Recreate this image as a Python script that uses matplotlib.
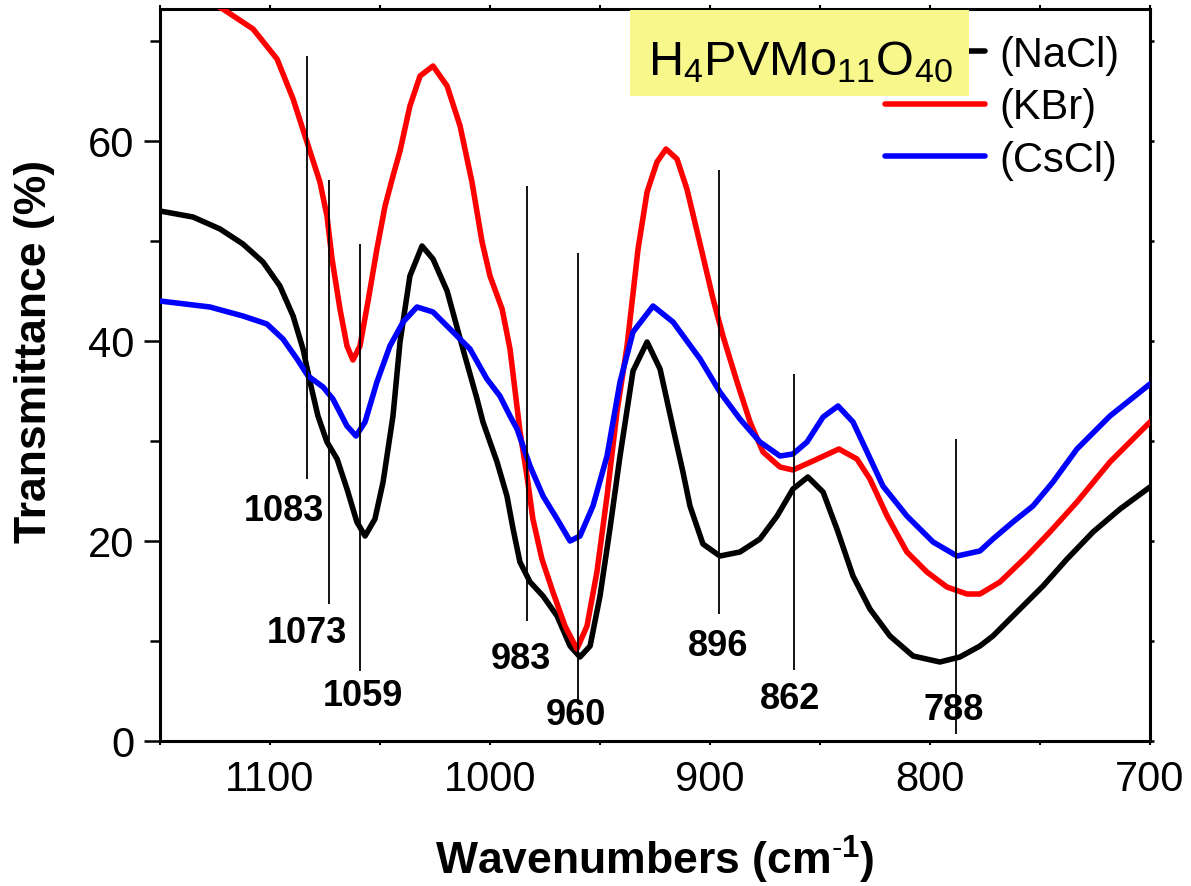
import matplotlib
matplotlib.use("Agg")
import matplotlib.pyplot as plt
from matplotlib.patches import Rectangle
from matplotlib.ticker import MultipleLocator

plt.rcParams['font.family'] = ['Liberation Sans', 'DejaVu Sans']
plt.rcParams['mathtext.fontset'] = 'custom'
plt.rcParams['mathtext.rm'] = 'Liberation Sans'
plt.rcParams['mathtext.bf'] = 'Liberation Sans:bold'
plt.rcParams['mathtext.default'] = 'regular'

# ---- data ----
nacl_wn = [1150.0, 1135.0, 1122.7, 1112.3, 1103.2, 1095.5, 1089.5, 1085.0, 1081.8, 1078.2,
           1074.1, 1069.5, 1065.0, 1060.5, 1056.8, 1052.3, 1048.6, 1044.1, 1040.9, 1036.4,
           1030.9, 1025.9, 1019.5, 1012.3, 1005.9, 1003.2, 996.8, 992.3, 989.5, 986.4,
           981.8, 975.9, 969.5, 963.6, 959.1, 954.5, 950.0, 945.5, 940.9, 935.0,
           928.6, 922.7, 916.8, 912.3, 909.1, 903.2, 895.5, 886.4, 877.3, 869.5,
           862.3, 855.5, 848.6, 842.3, 835.0, 827.3, 818.2, 807.7, 795.5, 786.4,
           777.3, 771.4, 759.1, 748.6, 737.7, 725.9, 713.6, 700.0]
nacl_t = [53.0, 52.4, 51.2, 49.7, 47.9, 45.5, 42.5, 39.2, 35.9, 32.5,
          29.9, 28.2, 25.2, 21.9, 20.5, 22.2, 25.9, 32.5, 39.9, 46.5,
          49.5, 48.2, 45.0, 39.2, 34.2, 31.9, 27.9, 24.5, 21.2, 17.9,
          15.9, 14.5, 12.5, 9.5, 8.4, 9.5, 14.5, 21.2, 28.5, 37.0,
          39.9, 37.2, 31.3, 26.9, 23.5, 19.7, 18.5, 18.9, 20.2, 22.5,
          25.2, 26.4, 24.9, 21.2, 16.5, 13.2, 10.5, 8.5, 7.9, 8.4,
          9.5, 10.5, 13.2, 15.5, 18.2, 20.9, 23.2, 25.4]

kbr_wn = [1150.0, 1135.0, 1121.4, 1107.7, 1096.8, 1089.5, 1083.2, 1077.3, 1074.1, 1071.8,
          1068.2, 1065.0, 1062.3, 1059.1, 1055.5, 1051.4, 1047.7, 1044.1, 1040.9, 1036.4,
          1031.8, 1025.9, 1019.5, 1013.6, 1008.2, 1003.6, 1000.0, 994.5, 990.9, 986.4,
          983.2, 980.5, 976.4, 971.4, 965.9, 960.5, 955.9, 951.4, 946.8, 942.3,
          940.0, 937.7, 932.7, 928.6, 924.1, 920.0, 915.0, 910.5, 904.5, 898.6,
          894.1, 887.7, 881.8, 875.9, 868.2, 862.3, 853.2, 841.4, 833.2, 827.3,
          819.5, 810.5, 801.4, 792.3, 783.2, 777.3, 768.2, 755.9, 745.5, 733.2,
          718.2, 700.0]
kbr_t = [76.0, 74.8, 73.2, 71.2, 68.2, 64.2, 59.9, 55.9, 52.5, 48.2,
         43.2, 39.5, 38.1, 39.5, 43.9, 49.2, 53.5, 56.5, 59.0, 63.5,
         66.5, 67.5, 65.5, 61.5, 55.9, 49.9, 46.5, 43.2, 39.2, 31.0,
         26.5, 22.2, 18.2, 14.9, 11.5, 9.2, 11.5, 16.9, 24.5, 32.9,
         36.2, 39.5, 49.2, 54.9, 57.9, 59.2, 58.2, 55.2, 49.7, 44.2,
         40.5, 35.9, 31.9, 28.9, 27.4, 27.1, 28.0, 29.2, 28.2, 26.2,
         22.5, 18.9, 16.9, 15.4, 14.7, 14.7, 15.9, 18.5, 20.9, 23.9,
         27.9, 31.9]

cscl_wn = [1150.0, 1127.3, 1112.3, 1101.4, 1094.1, 1087.7, 1082.7, 1075.9, 1071.4, 1065.0,
           1060.9, 1056.8, 1051.4, 1045.5, 1039.5, 1033.2, 1025.9, 1016.8, 1009.1, 1001.4,
           995.5, 990.9, 987.7, 981.8, 975.9, 969.5, 963.6, 959.1, 953.2, 946.8,
           940.9, 935.0, 925.9, 916.8, 904.5, 895.5, 886.4, 877.3, 868.2, 862.3,
           855.9, 848.6, 841.8, 835.0, 828.6, 821.4, 810.5, 798.6, 787.7, 777.3,
           771.4, 762.3, 753.2, 744.1, 733.2, 718.2, 700.0]
cscl_t = [44.0, 43.4, 42.5, 41.7, 40.2, 38.2, 36.5, 35.4, 34.2, 31.5,
          30.5, 31.9, 35.9, 39.5, 41.9, 43.4, 42.9, 40.9, 39.2, 36.2,
          34.5, 32.5, 31.2, 27.5, 24.5, 22.2, 20.0, 20.5, 23.5, 28.5,
          35.9, 40.9, 43.5, 41.9, 38.2, 34.9, 32.2, 29.9, 28.5, 28.7,
          29.9, 32.4, 33.5, 31.9, 28.9, 25.5, 22.5, 19.9, 18.5, 19.0,
          20.2, 21.9, 23.5, 25.9, 29.2, 32.5, 35.7]

series_labels = ['(NaCl)', '(KBr)', '(CsCl)']
series_colors = ['#000000', '#FF0000', '#0000FF']

peak_pos = [1083, 1073, 1059, 983, 960, 896, 862, 788]
peak_top = [68.5, 56.1, 49.7, 55.5, 48.8, 57.1, 36.7, 30.2]
peak_bottom = [26.2, 13.7, 7.0, 12.0, 3.7, 12.7, 7.1, 0.7]
peak_label_x = [1093.6, 1083.2, 1057.7, 985.9, 960.9, 896.4, 863.6, 789.1]
peak_label_y = [23.0, 10.8, 4.5, 8.2, 2.6, 9.5, 4.2, 3.1]
peak_labels = ['1083', '1073', '1059', '983', '960', '896', '862', '788']

x_ticks = [1100, 1000, 900, 800, 700]
y_ticks = [0, 20, 40, 60]

# ---- figure ----
fig = plt.figure(figsize=(11.91, 8.87), dpi=100)
ax = fig.add_axes([160/1191, 1 - 742/887, 990/1191, 732/887])

lw = 4.0
for wn, t, lab, col in zip([nacl_wn, kbr_wn, cscl_wn], [nacl_t, kbr_t, cscl_t],
                           series_labels, series_colors):
    ax.plot(wn, t, color=col, lw=lw, label=lab, solid_joinstyle='round',
            solid_capstyle='round', zorder=3)

ax.vlines(peak_pos, peak_bottom, peak_top, colors='black', lw=1.3, zorder=4)
for xx, yy, s in zip(peak_label_x, peak_label_y, peak_labels):
    ax.text(xx, yy, s, ha='center', va='center', fontsize=26, fontweight='bold', zorder=5)

ax.set_xlim(1150, 700)
ax.set_ylim(0, 73.2)
ax.set_xticks(x_ticks)
ax.set_yticks(y_ticks)
ax.xaxis.set_minor_locator(MultipleLocator(50))
ax.yaxis.set_minor_locator(MultipleLocator(10))

for sp in ax.spines.values():
    sp.set_linewidth(2.2)

ax.tick_params(axis='y', which='major', direction='out', length=11.5, width=1.8,
               labelsize=30, pad=7, right=True)
ax.tick_params(axis='y', which='minor', direction='out', length=7, width=1.8, right=True)
ax.tick_params(axis='x', which='both', direction='out', length=3, width=1.5,
               labelsize=30, pad=10, top=True)
for t in ax.yaxis.get_major_ticks() + ax.yaxis.get_minor_ticks():
    t.tick2line.set_markersize(3)

ax.set_xlabel(r'Wavenumbers (cm$^{\text{-}1}$)', fontsize=32, fontweight='bold')
ax.set_ylabel('Transmittance (%)', fontsize=32, fontweight='bold')
ax.xaxis.set_label_coords(0.5, -0.125)
ax.yaxis.set_label_coords(-0.106, 0.533)

leg = ax.legend(loc='upper left', bbox_to_anchor=((885 - 160) / 990, 0.9645),
                frameon=False, fontsize=30, handlelength=2.4, handletextpad=0.35,
                labelspacing=0.30, borderpad=0, borderaxespad=0)
leg.set_zorder(5)

rect = Rectangle((0.4747, 0.8811), 0.3424, 0.1175, transform=ax.transAxes,
                 facecolor='#F7F78C', edgecolor='none', zorder=6)
ax.add_patch(rect)
ax.text(0.6465, 0.911, r'H$_4$PVMo$_{11}$O$_{40}$', transform=ax.transAxes,
        ha='center', va='baseline', fontsize=35, zorder=7)

fig.savefig('out.png', dpi=100)
